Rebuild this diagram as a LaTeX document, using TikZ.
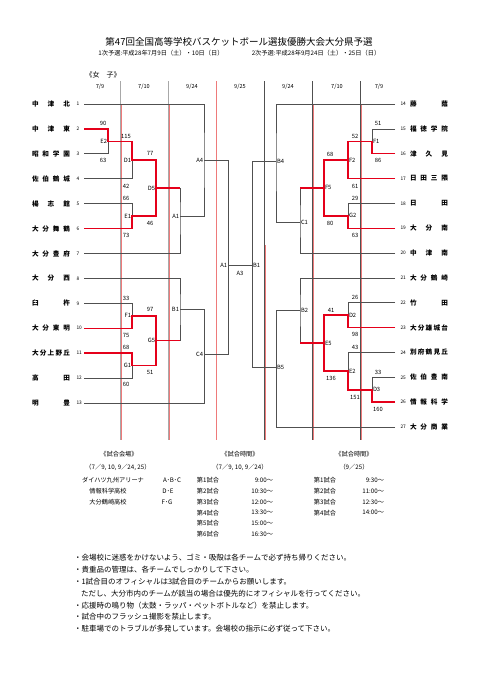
\documentclass[tikz,border=0pt]{standalone}
\usepackage{fontspec}
\setmainfont{Noto Sans CJK JP}
\usepackage{tikz}
\usetikzlibrary{positioning}
\definecolor{bracketgray}{HTML}{505050}
\definecolor{rulegray}{HTML}{A8A8A8}
\definecolor{winred}{HTML}{E5001A}
\definecolor{rulered}{HTML}{EE7A7A}

\begin{document}
\begin{tikzpicture}[x=1pt,y=-1pt,every node/.style={inner sep=0.8pt,align=center},
  team/.style={font=\fontsize{6.6}{7}\selectfont\bfseries},
  tnum/.style={font=\fontsize{4.8}{5}\selectfont,anchor=west},
  score/.style={font=\fontsize{5.8}{6}\selectfont},
  mlabel/.style={font=\fontsize{5.8}{6}\selectfont},
  datehead/.style={font=\fontsize{5.6}{6}\selectfont},
  info/.style={font=\fontsize{6.2}{7}\selectfont},
  note/.style={font=\fontsize{7.5}{8}\selectfont,anchor=west},
  gline/.style={draw=bracketgray,line width=0.7pt},
  wline/.style={draw=winred,line width=1.5pt},
  colrule/.style={draw=rulegray,line width=0.5pt},
  colrulered/.style={draw=rulered,line width=0.6pt}]
\fill[white] (0,0) rectangle (481,680);
\useasboundingbox (0,0) rectangle (481,680);

\node[font=\fontsize{9.5}{10}\selectfont] (title) at (239,42) {第47回全国高等学校バスケットボール選抜優勝大会大分県予選};
\node[font=\fontsize{6.2}{7}\selectfont] (round1) at (161,53) {1次予選:平成28年7月9日（土）・10日（日）};
\node[font=\fontsize{6.2}{7}\selectfont] (round2) at (316,53) {2次予選:平成28年9月24日（土）・25日（日）};
\node[font=\fontsize{7}{8}\selectfont] (division) at (103,75) {《女　子》};

\foreach \x/\d [count=\k] in {100/{7/9},144/{7/10},192/{9/24},240/{9/25},288/{9/24},337/{7/10},379/{7/9}}
  \node[datehead] (day\k) at (\x,87) {\d};

\foreach \x in {120,168} \draw[colrule] (\x,81) -- (\x,440);
\foreach \x in {264,312,360} \draw[colrule,draw=bracketgray] (\x,81) -- (\x,440);
\foreach \x in {121,169,313,361} \draw[colrulered] (\x,105) -- (\x,440);
\draw[colrulered] (216,81) -- (216,440);
\draw[colrulered] (265,245) -- (265,440);

\foreach \i/\n in {1/中 津 北,2/中 津 東,3/昭 和 学 園,4/佐 伯 鶴 城,5/楊 志 館,6/大 分 舞 鶴,7/大 分 豊 府,8/大 分 西,9/臼 杵,10/大 分 東 明,11/大 分 上 野 丘,12/高 田,13/明 豊} {
  \node[team] (t\i) at (51,{104+(\i-1)*24.92}) {\makebox[38pt][s]{\n}};
  \node[tnum] (n\i) at (75.5,{104+(\i-1)*24.92}) {\i};
  \coordinate (L\i) at (84,{104+(\i-1)*24.92});
}
\foreach \i/\n in {14/藤 蔭,15/福 徳 学 院,16/津 久 見,17/日 田 三 隈,18/日 田,19/大 分 南,20/中 津 南,21/大 分 鶴 崎,22/竹 田,23/大 分 雄 城 台,24/別 府 鶴 見 丘,25/佐 伯 豊 南,26/情 報 科 学,27/大 分 商 業} {
  \node[team] (t\i) at (429,{104+(\i-14)*24.85}) {\makebox[38pt][s]{\n}};
  \node[tnum] (n\i) at (399.5,{104+(\i-14)*24.85}) {\i};
  \coordinate (R\i) at (395,{104+(\i-14)*24.85});
}

\coordinate (le2) at (108,141.4);
\coordinate (ld1) at (132,160.1);
\coordinate (le1) at (132,216.2);
\coordinate (ld5) at (156,188.1);
\coordinate (la1) at (180,216);
\coordinate (la4) at (204,160);
\coordinate (lf1) at (132,315.8);
\coordinate (lg1) at (132,365.7);
\coordinate (lg5) at (156,340.7);
\coordinate (lb1) at (180,309.6);
\coordinate (lc4) at (204,354);
\coordinate (fl) at (228,265);
\coordinate (fr) at (252,265);
\coordinate (rb4) at (276,161);
\coordinate (rc1) at (300,222);
\coordinate (rf5) at (324,187.9);
\coordinate (rf2) at (348,159.9);
\coordinate (rf1) at (372,141.3);
\coordinate (rg2) at (348,215.8);
\coordinate (rb2) at (300,310.6);
\coordinate (re5) at (324,343.2);
\coordinate (rd2) at (348,315.2);
\coordinate (re2) at (348,371.1);
\coordinate (rd3) at (372,389.8);
\coordinate (rb5) at (276,367);

\draw[gline] (L1) -| (la4) |- (la1);
\draw[gline] (la4) -| (fl);
\draw[gline] (L3) -| (le2);
\draw[gline] (L4) -| (ld1);
\draw[gline] (L5) -| (le1);
\draw[gline] (L7) -| (la1) -- (la1 |- ld5);
\draw[gline] (L8) -| (lb1) -- (lb1 |- lg5);
\draw[gline] (lb1) -| (lc4);
\draw[gline] (L13) -| (lc4);
\draw[gline] (lc4) -| (fl);
\draw[gline] (L9) -| (lf1);
\draw[gline] (L12) -| (lg1);
\draw[gline] (fl) -- (fr);
\draw[gline] (R14) -| (rb4) |- (rc1);
\draw[gline] (rb4) -| (fr);
\draw[gline] (R15) -| (rf1);
\draw[gline] (R18) -| (rg2);
\draw[gline] (R20) -| (rc1) -- (rc1 |- rf5);
\draw[gline] (R21) -| (rb2) -- (rb2 |- re5);
\draw[gline] (rb2) -| (rb5);
\draw[gline] (R27) -| (rb5);
\draw[gline] (rb5) -| (fr);
\draw[gline] (R22) -| (rd2);
\draw[gline] (R24) -| (re2);
\draw[gline] (R25) -| (rd3);

\draw[wline] (L2) -| (le2) -| (ld1) -| (ld5) -- (ld5 -| la1);
\draw[wline] (L6) -| (le1) -| (ld5);
\draw[wline] (L10) -| (lf1) -| (lg5) -- (lg5 -| lb1);
\draw[wline] (L11) -| (lg1) -| (lg5);
\draw[wline] (R16) -| (rf1) -| (rf2);
\draw[wline] (R17) -| (rf2) -| (rf5) -- (rf5 -| rc1);
\draw[wline] (R19) -| (rg2) -| (rf5);
\draw[wline] (R23) -| (rd2) -| (re5) -- (re5 -| rb2);
\draw[wline] (R26) -| (rd3) -| (re2) -| (re5);

\foreach \p/\t in {le2/E2,ld1/D1,le1/E1,ld5/D5,la1/A1,la4/A4,lf1/F1,lg1/G1,lg5/G5,lb1/B1,lc4/C4,fl/A1}
  \node[mlabel,left] (m\p) at (\p) {\t};
\foreach \p/\t in {rb4/B4,rc1/C1,rf5/F5,rf2/F2,rf1/F1,rg2/G2,rb2/B2,re5/E5,rd2/D2,re2/E2,rd3/D3,rb5/B5,fr/B1}
  \node[mlabel,right] (m\p) at (\p) {\t};
\node[mlabel] (mfinal) at (240,273) {A3};

\foreach \x/\y/\v [count=\k] in {103/123/90,103/160/63,126/136/115,126/186/42,150/153/77,150/223/46,126/198/66,126/235/73,126/298/33,126/335/75,150/309/97,150/372/51,126/347/68,126/384/60,378/123/51,378/160/86,355/136/52,355/186/61,330/154/68,330/223/80,355/198/29,355/235/63,331/310/41,331/378/136,355/297/26,355/334/98,355/347/43,355/397/151,378/372/33,378/409/160}
  \node[score] (sc\k) at (\x,\y) {\v};

\node[info] (venuehead) at (119,454) {《試合会場》};
\node[info] (venuedays) at (118,467) {（7／9, 10, 9／24, 25）};
\node[info] (venue1) at (113,480) {ダイハツ九州アリーナ};
\node[info] (courts1) at (172,480) {A･B･C};
\node[info] (venue2) at (108,491) {情報科学高校};
\node[info] (courts2) at (168,491) {D･E};
\node[info] (venue3) at (108,502) {大分鶴崎高校};
\node[info] (courts3) at (167,502) {F･G};
\node[info] (timehead1) at (240,454) {《試合時間》};
\node[info] (timedays1) at (240,467) {（7／9, 10, 9／24）};
\foreach \t [count=\k] in {9:00～,10:30～,12:00～,13:30～,15:00～,16:30～} {
  \node[info] (game\k) at (208,{480+(\k-1)*10.9}) {第\k 試合};
  \node[info,anchor=east] (start\k) at (274,{480+(\k-1)*10.9}) {\t};
}
\node[info] (timehead2) at (354,454) {《試合時間》};
\node[info] (timedays2) at (354,467) {（9／25）};
\foreach \t [count=\k] in {9:30～,11:00～,12:30～,14:00～} {
  \node[info] (final\k) at (325,{480+(\k-1)*10.9}) {第\k 試合};
  \node[info,anchor=east] (fstart\k) at (385,{480+(\k-1)*10.9}) {\t};
}

\foreach \x/\t [count=\k] in {73/・会場校に迷惑をかけないよう、ゴミ・吸殻は各チームで必ず持ち帰りください。,73/・貴重品の管理は、各チームでしっかりして下さい。,73/・1試合目のオフィシャルは3試合目のチームからお願いします。,80/ただし、大分市内のチームが該当の場合は優先的にオフィシャルを行ってください。,73/・応援時の鳴り物（太鼓・ラッパ・ペットボトルなど）を禁止します。,73/・試合中のフラッシュ撮影を禁止します。,73/・駐車場でのトラブルが多発しています。会場校の指示に必ず従って下さい。}
  \node[note] (note\k) at (\x,{558+(\k-1)*11.8}) {\t};
\end{tikzpicture}
\end{document}
